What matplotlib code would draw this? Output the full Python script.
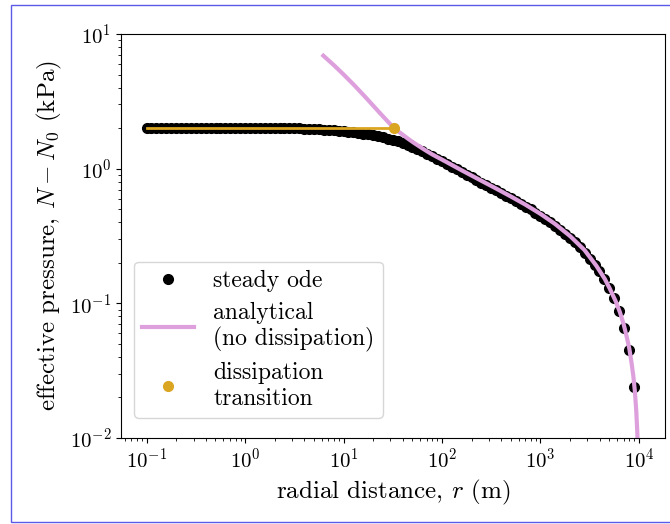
import matplotlib
matplotlib.use("Agg")
import matplotlib.pyplot as plt
from matplotlib.patches import Rectangle

plt.rcParams["font.family"] = "serif"
plt.rcParams["font.serif"] = ["cmr10", "DejaVu Serif"]
plt.rcParams["mathtext.fontset"] = "cm"
plt.rcParams["axes.formatter.use_mathtext"] = True

# steady ode solution, r in m, N - N0 in kPa
r_ode = [0.100, 0.112, 0.126, 0.141, 0.158, 0.178, 0.200, 0.224, 0.251, 0.282,
         0.316, 0.355, 0.398, 0.447, 0.501, 0.562, 0.631, 0.708, 0.794, 0.891,
         1.00, 1.12, 1.26, 1.41, 1.58, 1.78, 2.00, 2.24, 2.51, 2.82,
         3.16, 3.55, 3.98, 4.47, 5.01, 5.62, 6.31, 7.08, 7.94, 8.91,
         10.0, 11.2, 12.6, 14.1, 15.8, 17.8, 20.0, 22.4, 25.1, 28.2,
         31.6, 35.5, 39.8, 44.7, 50.1, 56.2, 63.1, 70.8, 79.4, 89.1,
         100, 112, 126, 141, 158, 178, 200, 224, 251, 282,
         316, 355, 398, 447, 501, 562, 631, 708, 794, 891,
         1000, 1120, 1260, 1410, 1580, 1780, 2000, 2240, 2510, 2820,
         3160, 3550, 3980, 4470, 5010, 5620, 6310, 7080, 7940, 8910]
N_ode = [2.02, 2.02, 2.02, 2.02, 2.02, 2.02, 2.02, 2.02, 2.02, 2.02,
         2.02, 2.02, 2.02, 2.02, 2.02, 2.02, 2.02, 2.02, 2.02, 2.02,
         2.02, 2.02, 2.02, 2.01, 2.01, 2.01, 2.00, 2.00, 2.00, 2.00,
         1.99, 1.99, 1.98, 1.98, 1.97, 1.96, 1.95, 1.94, 1.93, 1.91,
         1.895, 1.88, 1.86, 1.84, 1.82, 1.795, 1.77, 1.74, 1.71, 1.675,
         1.64, 1.60, 1.56, 1.51, 1.46, 1.405, 1.35, 1.295, 1.245, 1.19,
         1.14, 1.085, 1.035, 0.988, 0.944, 0.902, 0.862, 0.825, 0.789, 0.755,
         0.723, 0.691, 0.661, 0.631, 0.603, 0.576, 0.549, 0.523, 0.498, 0.472,
         0.448, 0.424, 0.400, 0.376, 0.353, 0.330, 0.307, 0.285, 0.260, 0.237,
         0.215, 0.194, 0.173, 0.152, 0.130, 0.109, 0.087, 0.066, 0.045, 0.024]

# analytical solution without dissipation
r_an = [6.24, 8, 10, 13, 17, 20, 24, 28, 32.6, 38, 45, 52, 60, 70, 80, 110,
        160, 240, 350, 500, 700, 1000, 1400, 2000, 2800, 3700, 4500, 5080,
        5800, 6413, 7000, 7500, 8000, 8430, 8800, 9105, 9400, 9610, 9800, 10000]
N_an = [6.9, 5.86, 5.01, 4.13, 3.35, 2.94, 2.54, 2.25, 2.0, 1.836, 1.673,
        1.554, 1.451, 1.351, 1.274, 1.125, 0.969, 0.828, 0.716, 0.622, 0.542,
        0.462, 0.390, 0.316, 0.249, 0.190, 0.152, 0.128, 0.104, 0.086, 0.070,
        0.057, 0.046, 0.036, 0.0285, 0.0222, 0.0160, 0.0115, 0.0078, 0.0040]

# dissipation transition point
r_start = 0.1
r_t = 32.6
N_t = 2.0

fig = plt.figure(figsize=(6.7, 5.24), dpi=100)
ax = fig.add_axes([0.1806, 0.1641, 0.8119, 0.7710])

ax.plot(r_ode, N_ode, "o", color="black", ms=7, label="steady ode")
ax.plot(r_an, N_an, "-", color="plum", lw=3, label="analytical\n(no dissipation)")
ax.plot([r_start, r_t], [N_t, N_t], "-", color="goldenrod", lw=2)
ax.plot([r_t], [N_t], "o", color="goldenrod", ms=7, label="dissipation\ntransition")

ax.set_xscale("log")
ax.set_yscale("log")
ax.set_xlim(10 ** -1.26, 10 ** 4.265)
ax.set_ylim(1e-2, 1e1)
ax.tick_params(labelsize=15)
ax.set_xlabel("radial distance, $r$ (m)", fontsize=18)
ax.set_ylabel("effective pressure, $N - N_0$ (kPa)", fontsize=18)

ax.legend(loc="lower left", bbox_to_anchor=(0.024, 0.05), borderaxespad=0,
          fontsize=17, numpoints=1, handlelength=2.2, labelspacing=0.4,
          borderpad=0.35)

fig.add_artist(Rectangle((11 / 670, 2 / 524), 700 / 670, 517 / 524,
                         transform=fig.transFigure, fill=False,
                         edgecolor="#5b5be8", lw=1))

fig.savefig("out.png", dpi=100)
